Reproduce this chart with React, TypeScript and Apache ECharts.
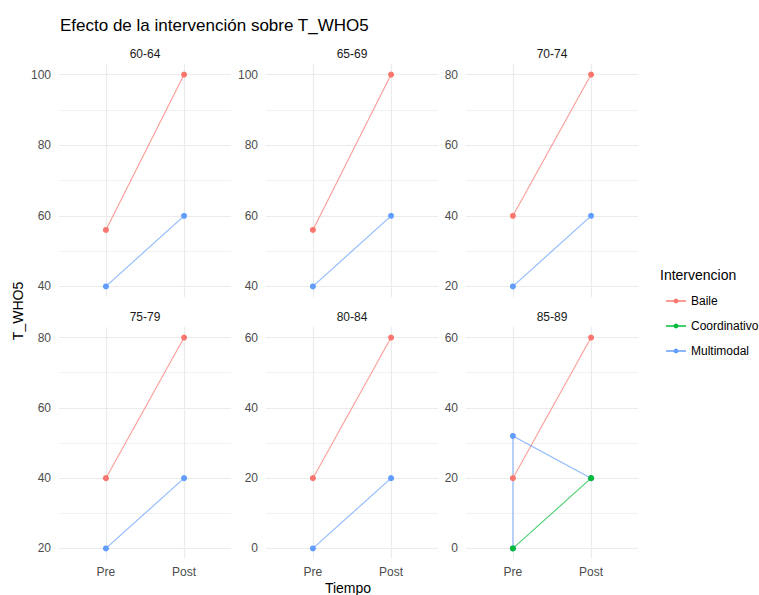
import React, { useEffect, useRef } from 'react';
import * as echarts from 'echarts';

const panels = ['60-64', '65-69', '70-74', '75-79', '80-84', '85-89'];
const categories = ['Pre', 'Post'];
const groups = ['Baile', 'Coordinativo', 'Multimodal'];
const colors = ['#F8766D', '#00BA38', '#619CFF'];

const bailePre = [56, 56, 40, 40, 20, 20];
const bailePost = [100, 100, 80, 80, 60, 60];
const coordinativoPre: (number | null)[] = [null, null, null, null, null, 0];
const coordinativoPost: (number | null)[] = [null, null, null, null, null, 20];
const multimodalPre: number[][] = [[40], [40], [20], [20], [0], [0, 32]];
const multimodalPost = [60, 60, 40, 40, 20, 20];

const yTicks: number[][] = [
  [40, 60, 80, 100],
  [40, 60, 80, 100],
  [20, 40, 60, 80],
  [20, 40, 60, 80],
  [0, 20, 40, 60],
  [0, 20, 40, 60],
];

const FONT = 'Liberation Sans, Arial, sans-serif';
const colLeft = [59, 266, 466];
const panelW = 172;
const rowTop = [64, 327];
const rowH = [233, 232];

export default function App() {
  const ref = useRef<HTMLDivElement>(null);
  useEffect(() => {
    const chart = echarts.init(ref.current!, null, { renderer: 'svg' });
    const grid: any[] = [];
    const xAxis: any[] = [];
    const yAxis: any[] = [];
    const series: any[] = [];
    const graphic: any[] = [];

    panels.forEach((p, i) => {
      const col = i % 3;
      const row = Math.floor(i / 3);
      const vals: number[] = [bailePre[i], bailePost[i], multimodalPost[i], ...multimodalPre[i]];
      if (coordinativoPre[i] != null) vals.push(coordinativoPre[i] as number);
      if (coordinativoPost[i] != null) vals.push(coordinativoPost[i] as number);
      const lo = Math.min(...vals);
      const hi = Math.max(...vals);
      const pad = (hi - lo) * 0.05;
      grid.push({ left: colLeft[col], top: rowTop[row], width: panelW, height: rowH[row] });
      xAxis.push({
        type: 'value',
        gridIndex: i,
        min: 0.4,
        max: 2.6,
        axisLine: { show: false },
        axisTick: { show: false },
        splitLine: { show: false },
        axisLabel: {
          show: row === 1,
          customValues: [1, 2],
          formatter: (v: number) => categories[Math.round(v) - 1] || '',
          color: '#4D4D4D',
          fontSize: 12,
          fontFamily: FONT,
          margin: 7,
        },
      });
      yAxis.push({
        type: 'value',
        gridIndex: i,
        min: lo - pad,
        max: hi + pad,
        axisLine: { show: false },
        axisTick: { show: false },
        splitLine: { show: false },
        axisLabel: {
          customValues: yTicks[i],
          color: '#4D4D4D',
          fontSize: 12,
          fontFamily: FONT,
          margin: 8,
        },
      });
      const majors = yTicks[i];
      const minors: number[] = [];
      for (let k = 0; k < majors.length - 1; k++) minors.push((majors[k] + majors[k + 1]) / 2);
      series.push({
        type: 'line',
        xAxisIndex: i,
        yAxisIndex: i,
        data: [],
        silent: true,
        z: 0,
        markLine: {
          z: 0,
          silent: true,
          symbol: ['none', 'none'],
          label: { show: false },
          emphasis: { disabled: true },
          lineStyle: { color: '#EBEBEB', type: 'solid', width: 1.2 },
          data: [
            ...minors.map((v) => ({ yAxis: v, lineStyle: { color: '#EFEFEF', type: 'solid', width: 0.8 } })),
            ...majors.map((v) => ({ yAxis: v })),
            { xAxis: 1 },
            { xAxis: 2 },
          ],
        },
      });
      const common = {
        type: 'line',
        xAxisIndex: i,
        yAxisIndex: i,
        symbol: 'circle',
        symbolSize: 6,
        z: 3,
        emphasis: { disabled: true },
      };
      series.push({
        ...common,
        name: groups[0],
        data: [[1, bailePre[i]], [2, bailePost[i]]],
        itemStyle: { color: colors[0], borderWidth: 0 },
        lineStyle: { color: colors[0], width: 1.1, opacity: 0.72 },
      });
      series.push({
        ...common,
        name: groups[2],
        data: [...multimodalPre[i].map((v) => [1, v]), [2, multimodalPost[i]]],
        itemStyle: { color: colors[2], borderWidth: 0 },
        lineStyle: { color: colors[2], width: 1.1, opacity: 0.72 },
      });
      if (coordinativoPre[i] != null) {
        series.push({
          ...common,
          name: groups[1],
          data: [[1, coordinativoPre[i]], [2, coordinativoPost[i]]],
          itemStyle: { color: colors[1], borderWidth: 0 },
          lineStyle: { color: colors[1], width: 1.1, opacity: 0.72 },
        });
      }
      graphic.push({
        type: 'text',
        x: colLeft[col] + panelW / 2,
        y: rowTop[row] - 10,
        style: {
          text: p,
          fill: '#1A1A1A',
          font: `12px ${FONT}`,
          textAlign: 'center',
          textVerticalAlign: 'middle',
        },
      });
    });

    graphic.push({
      type: 'text',
      x: 348,
      y: 588,
      style: { text: 'Tiempo', fill: '#000', font: `14px ${FONT}`, textAlign: 'center', textVerticalAlign: 'middle' },
    });
    graphic.push({
      type: 'text',
      x: 18,
      y: 311,
      rotation: Math.PI / 2,
      style: { text: 'T_WHO5', fill: '#000', font: `14px ${FONT}`, textAlign: 'center', textVerticalAlign: 'middle' },
    });
    graphic.push({
      type: 'text',
      x: 660,
      y: 275,
      style: { text: 'Intervencion', fill: '#000', font: `14px ${FONT}`, textAlign: 'left', textVerticalAlign: 'middle' },
    });

    chart.setOption({
      animation: false,
      backgroundColor: '#fff',
      title: {
        text: 'Efecto de la intervención sobre T_WHO5',
        left: 55,
        top: 12,
        textStyle: { fontSize: 17, fontWeight: 'normal', color: '#000', fontFamily: FONT },
      },
      legend: {
        data: groups,
        orient: 'vertical',
        left: 660,
        top: 290,
        itemWidth: 20,
        itemHeight: 6,
        itemGap: 13,
        selectedMode: false,
        textStyle: { fontSize: 12, color: '#000', fontFamily: FONT },
      },
      grid,
      xAxis,
      yAxis,
      series,
      graphic,
    });
    return () => chart.dispose();
  }, []);
  return (
    <div
      ref={ref}
      style={{ position: 'absolute', left: 0, top: 0, width: 759, height: 595, background: '#fff' }}
    />
  );
}
